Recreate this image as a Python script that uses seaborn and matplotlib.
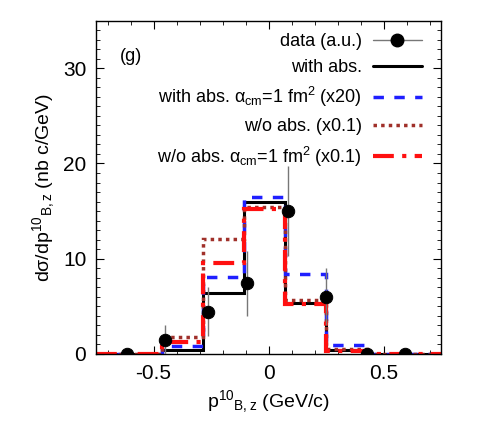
import numpy as np
import matplotlib
matplotlib.use('Agg')
import matplotlib.pyplot as plt
from matplotlib.lines import Line2D
from matplotlib.ticker import MultipleLocator
import seaborn as sns

# bin edges of the histograms (GeV/c)
edges = [-0.75, -0.4625, -0.283, -0.108, 0.073, 0.249, 0.43, 0.75]
with_abs = [0, 0.4, 6.4, 16.0, 5.3, 0.4, 0]
with_abs_acm = [0, 0.85, 8.1, 16.5, 8.4, 0.95, 0]
wo_abs = [0, 1.75, 12.1, 15.4, 5.7, 0.5, 0]
wo_abs_acm = [0, 1.25, 9.5, 15.2, 5.2, 0.3, 0]

# data points
data_x = [-0.616, -0.448, -0.263, -0.095, 0.086, 0.25, 0.43, 0.595]
data_y = [0.0, 1.5, 4.45, 7.4, 15.0, 6.0, 0.0, 0.0]
data_err = [0.0, 1.5, 2.6, 3.4, 4.7, 3.0, 0.0, 0.0]

labels = ['data (a.u.)', 'with abs.',
          r'with abs. $\alpha_{\rm cm}$=1 fm$^2$ (x20)',
          'w/o abs. (x0.1)',
          r'w/o abs. $\alpha_{\rm cm}$=1 fm$^2$ (x0.1)']

sns.set_style('ticks')
plt.rcParams['font.family'] = ['Liberation Sans', 'DejaVu Sans']
plt.rcParams['mathtext.fontset'] = 'custom'
plt.rcParams['mathtext.rm'] = 'Liberation Sans'
plt.rcParams['mathtext.it'] = 'Liberation Sans'
plt.rcParams['mathtext.sf'] = 'Liberation Sans'
plt.rcParams['text.color'] = 'black'
plt.rcParams['axes.labelcolor'] = 'black'
plt.rcParams['axes.edgecolor'] = 'black'
plt.rcParams['xtick.color'] = 'black'
plt.rcParams['ytick.color'] = 'black'

fig = plt.figure(figsize=(4.8, 4.48), dpi=100)
ax = fig.add_axes([0.2, 0.21, 0.719, 0.744])

styles = [
    dict(color='black', lw=2.2, ls='-'),
    dict(color='#1f1fff', lw=2.5, ls=(0, (3, 3))),
    dict(color='#a0302a', lw=2.5, ls=(0, (1, 1.2))),
    dict(color='#ff1010', lw=3, ls=(0, (5, 2, 1, 2))),
]
series = [with_abs, with_abs_acm, wo_abs, wo_abs_acm]
for vals, st in zip(series, styles):
    ax.stairs(vals, edges, baseline=None, **st)

ax.errorbar(data_x, data_y, yerr=data_err, fmt='none', ecolor='#777777',
            elinewidth=1, zorder=4)
sns.scatterplot(x=data_x, y=data_y, ax=ax, color='black', s=80,
                edgecolor='black', zorder=5, legend=False)

ax.set_xlim(-0.75, 0.75)
ax.set_ylim(0, 35)
ax.set_xticks([-0.5, 0, 0.5])
ax.set_xticklabels(['-0.5', '0', '0.5'])
ax.set_yticks([0, 10, 20, 30])
ax.xaxis.set_minor_locator(MultipleLocator(0.1))
ax.yaxis.set_minor_locator(MultipleLocator(1))
ax.tick_params(which='both', direction='in', top=True, right=True, labelsize=15, pad=7)
ax.tick_params(which='major', length=6)
ax.tick_params(which='minor', length=3)
for s in ax.spines.values():
    s.set_linewidth(1)

ax.set_xlabel(r'p$^{10}$$_{\rm B,z}$ (GeV/c)', fontsize=14)
ax.set_ylabel(r'd$\sigma$/dp$^{10}$$_{\rm B,z}$ (nb c/GeV)', fontsize=14)
ax.text(0.07, 0.88, '(g)', transform=ax.transAxes, fontsize=13)

handles = [Line2D([], [], color='#777777', lw=1, marker='o', markersize=9,
                  markerfacecolor='black', markeredgecolor='black')]
handles += [Line2D([], [], **st) for st in styles]
ax.legend(handles, labels, loc='upper right', frameon=False, markerfirst=False,
          fontsize=13, handlelength=2.7, handletextpad=0.6, labelspacing=0.5,
          borderaxespad=0.3, bbox_to_anchor=(0.98, 1.0))

fig.savefig('out.png', dpi=100)
